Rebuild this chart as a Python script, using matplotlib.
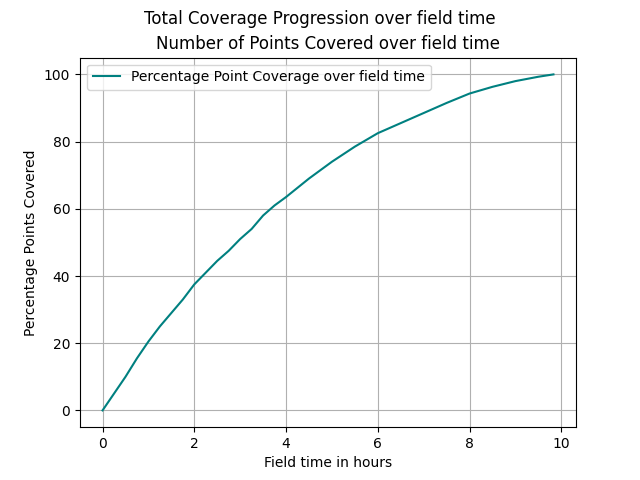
import matplotlib
matplotlib.use("Agg")
import matplotlib.pyplot as plt

hours = [0, 0.25, 0.5, 0.75, 1.0, 1.25, 1.5, 1.75, 2.0, 2.25, 2.5, 2.75, 3.0, 3.25, 3.5, 3.75, 4.0, 4.5, 5.0, 5.5, 6.0, 6.5, 7.0, 7.5, 8.0, 8.5, 9.0, 9.5, 9.83]
coverage = [0, 5, 10, 15.5, 20.5, 25, 29, 33, 37.5, 41, 44.5, 47.5, 51, 54, 58, 61, 63.5, 69, 74, 78.5, 82.5, 85.5, 88.5, 91.5, 94.3, 96.3, 98, 99.3, 100]

fig, ax = plt.subplots(figsize=(6.4, 4.8), dpi=100)
ax.plot(hours, coverage, color="#008080", label="Percentage Point Coverage over field time")
fig.suptitle("Total Coverage Progression over field time")
ax.set_title("Number of Points Covered over field time")
ax.set_xlabel("Field time in hours")
ax.set_ylabel("Percentage Points Covered")
ax.grid(True)
ax.legend(loc="upper left")
fig.savefig("out.png")
